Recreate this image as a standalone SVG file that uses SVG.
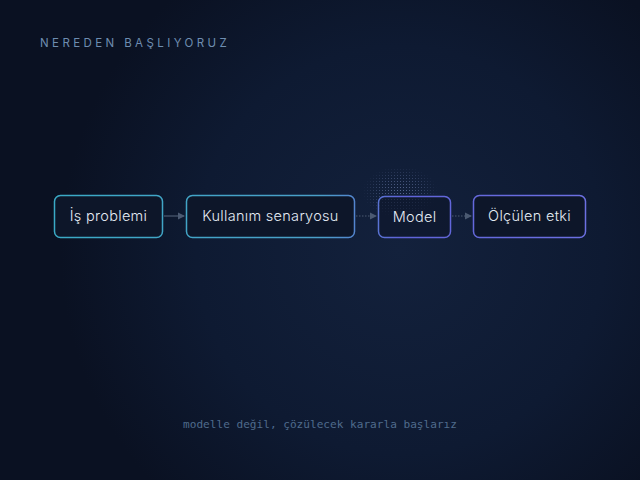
<svg xmlns="http://www.w3.org/2000/svg" width="640" height="480" viewBox="0 0 640 480">
<defs>
<radialGradient id="bg" cx="400" cy="250" r="340" gradientUnits="userSpaceOnUse">
<stop offset="0" stop-color="#13213c"/>
<stop offset="0.6" stop-color="#0e1a32"/>
<stop offset="1" stop-color="#0a1122"/>
</radialGradient>
<linearGradient id="edge" x1="54" y1="0" x2="586" y2="0" gradientUnits="userSpaceOnUse">
<stop offset="0" stop-color="#3aaac6"/>
<stop offset="0.5" stop-color="#4a9fc8"/>
<stop offset="0.65" stop-color="#5f63d8"/>
<stop offset="1" stop-color="#6c70e2"/>
</linearGradient>
<radialGradient id="halo" cx="0.5" cy="0.5" r="0.5">
<stop offset="0" stop-color="#fff" stop-opacity="0.8"/>
<stop offset="0.6" stop-color="#fff" stop-opacity="0.4"/>
<stop offset="1" stop-color="#fff" stop-opacity="0"/>
</radialGradient>
<pattern id="dots" width="3" height="3" patternUnits="userSpaceOnUse">
<circle cx="1.5" cy="1.5" r="0.55" fill="#7f90c4"/>
</pattern>
<mask id="hm"><ellipse cx="400" cy="192" rx="38" ry="26" fill="url(#halo)"/></mask>
<marker id="arr" viewBox="0 0 6 6" refX="5" refY="3" markerWidth="6" markerHeight="6" orient="auto">
<path d="M0,0 L6,3 L0,6 z" fill="#4b5a72"/>
</marker>
<style>
.box{fill:#0d1629;stroke:url(#edge);stroke-width:1.5}
.lbl{font-family:Inter,"Noto Sans",sans-serif;font-weight:300;font-size:14.5px;letter-spacing:0.3px;fill:#e4ebf4;text-anchor:middle}
.con{stroke:#4b5a72;stroke-width:1.2;fill:none}
</style>
</defs>
<rect width="640" height="480" fill="url(#bg)"/>
<rect x="355" y="162" width="90" height="66" fill="url(#dots)" mask="url(#hm)"/>
<text x="40" y="47" font-family="Inter,'Noto Sans',sans-serif" font-size="11.5" letter-spacing="3.4" fill="#6e8db0">NEREDEN BAŞLIYORUZ</text>
<g id="connectors">
<line class="con" x1="164" y1="216" x2="184" y2="216" marker-end="url(#arr)"/>
<line class="con" x1="356" y1="216" x2="376" y2="216" stroke-dasharray="1.5 1.5" marker-end="url(#arr)"/>
<line class="con" x1="452" y1="216" x2="471" y2="216" stroke-dasharray="1.5 1.5" marker-end="url(#arr)"/>
</g>
<g id="n1"><rect class="box" x="54.5" y="195.5" width="108" height="42" rx="6"/><text class="lbl" x="108.5" y="221">İş problemi</text></g>
<g id="n2"><rect class="box" x="186.5" y="195.5" width="168" height="42" rx="6"/><text class="lbl" x="270.5" y="221">Kullanım senaryosu</text></g>
<g id="n3"><rect class="box" x="378.5" y="196.5" width="72" height="41" rx="6" fill-opacity="0.6"/><text class="lbl" x="414.5" y="222">Model</text></g>
<g id="n4"><rect class="box" x="473.5" y="195.5" width="112" height="42" rx="6"/><text class="lbl" x="529.5" y="221">Ölçülen etki</text></g>
<text x="320" y="428" font-family="'DejaVu Sans Mono',monospace" font-size="11.1" fill="#4f6b8c" text-anchor="middle">modelle değil, çözülecek kararla başlarız</text>
</svg>
